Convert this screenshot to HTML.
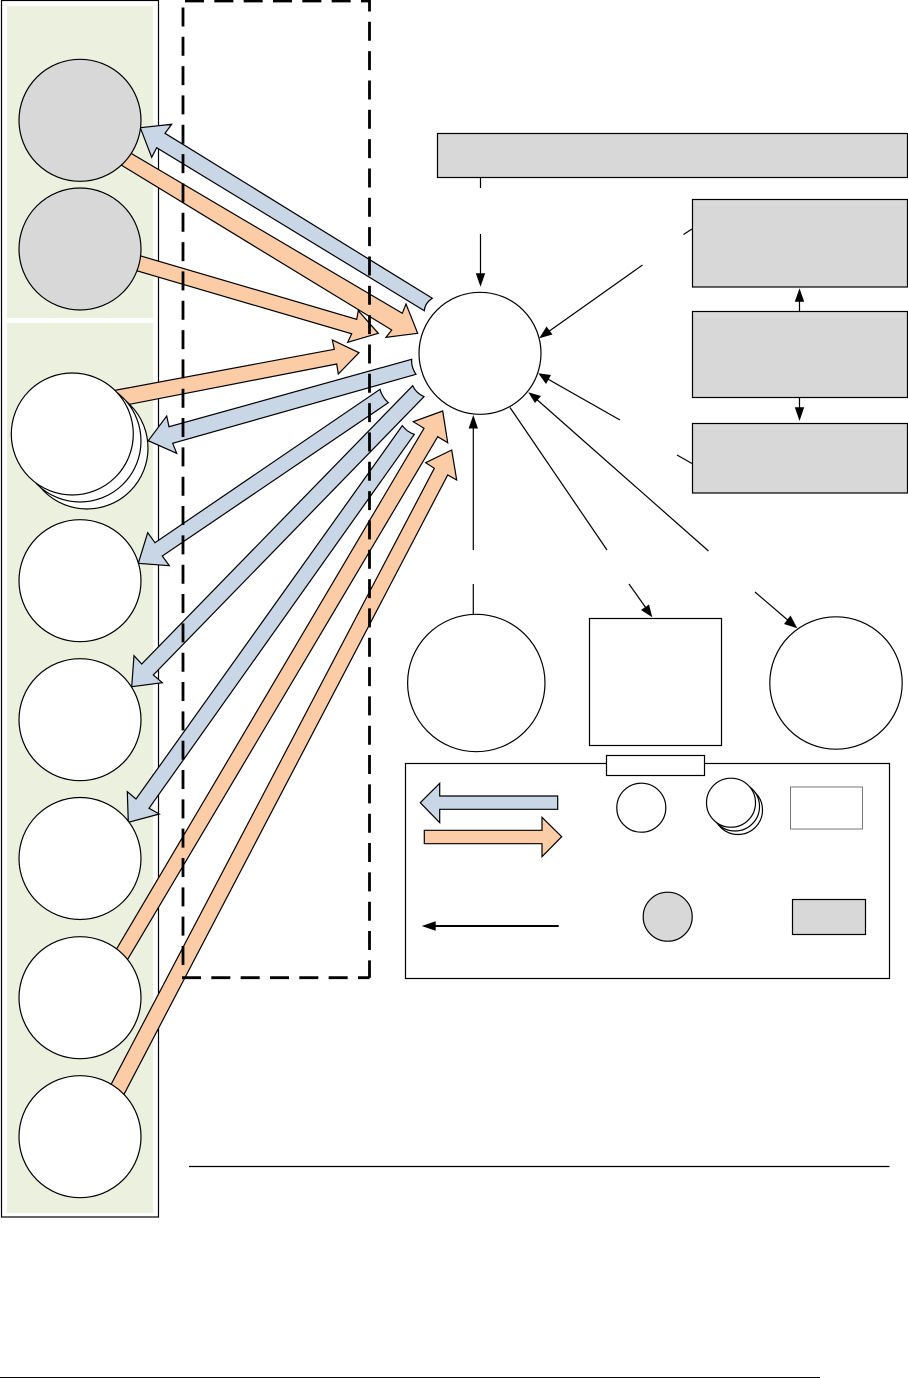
<!DOCTYPE html>
<html><head><meta charset="utf-8"><style>html,body{margin:0;padding:0;background:#fff}svg{display:block}</style></head>
<body>
<svg xmlns="http://www.w3.org/2000/svg" width="908" height="1378" viewBox="0 0 908 1378">
<rect x="1.5" y="0.5" width="157" height="1216.5" fill="#fff" stroke="#000" stroke-width="1.2"/>
<rect x="7" y="6" width="146" height="312" fill="#ebf1de"/>
<rect x="7" y="323" width="146" height="890" fill="#ebf1de"/>

<g stroke="#000" stroke-width="1.2" stroke-linejoin="miter">
<g fill="#c8d6e6">
<path d="M140.3 127.7L171.7 124.3L165 133.3L432.3 298.3Q425 303 424.3 310.7L156.7 147.7L151.7 157.3Z"/>
<path d="M148.3 440.7L166.7 416L169 426.7L411.7 359.3Q411 367 416 374.3L172.7 443.3L176.7 453.3Z"/>
<path d="M138.3 563.3L147.7 532.7L155 542.7L380 389.3Q382 397 388.3 402.7L162.3 556L169.3 565.7Z"/>
<path d="M131.7 686.7L134 655.7L141.7 664L412.7 385.7Q416 393 424 396.7L153.3 675L162.3 682.7Z"/>
<path d="M128.3 822.3L127.3 791.7L136 799L402.3 425.7Q407 432 414.3 434.3L149 808.3L159.3 814Z"/>
</g>
<g fill="#fbcca6">
<path d="M417.7 333.3L406 304L402.3 313.3L100 135L90 146L391.7 330L386 337.3Z"/>
<path d="M378.3 333.3L358.3 310.7L356.7 319.3L100 244L100 260L351.7 333.8L347.7 342.3Z"/>
<path d="M359 352.7L332.3 340L334.3 349.3L90 395L90 412L336.7 364L338.3 374Z"/>
<path d="M442.7 411L413.3 421.7L424 428.3L97.3 981.6L108.3 992L437.7 436.7L447.7 442.7Z"/>
<path d="M451.7 450L425.7 462.7L434.3 468.3L91.7 1121.4L104.3 1132L447.7 475L456.7 480Z"/>
</g>
</g>

<g fill="#d8d8d8" stroke="#000" stroke-width="1.2">
<circle cx="80" cy="120.3" r="61"/>
<circle cx="80" cy="249" r="61"/>
</g>
<g fill="#fff" stroke="#000" stroke-width="1.2">
<circle cx="87" cy="448" r="61"/>
<circle cx="80" cy="441" r="61"/>
<circle cx="72.3" cy="434" r="61"/>
<circle cx="80" cy="580.7" r="61"/>
<circle cx="80" cy="719.7" r="61"/>
<circle cx="80" cy="858.5" r="61"/>
<circle cx="80" cy="997.7" r="61"/>
<circle cx="80" cy="1136.7" r="61"/>
<circle cx="480" cy="353.3" r="61"/>
<circle cx="476.3" cy="683" r="68.7"/>
<rect x="589.5" y="618.5" width="132" height="127"/>
<circle cx="836" cy="683" r="66.2"/>
</g>

<g fill="#d8d8d8" stroke="#000" stroke-width="1.2">
<rect x="437.5" y="133.5" width="470" height="44"/>
<rect x="692.5" y="199.5" width="215" height="87.5"/>
<rect x="692.5" y="311.5" width="215" height="86"/>
<rect x="692.5" y="423.5" width="215" height="69.5"/>
</g>

<g stroke="#000" stroke-width="1.2" fill="none">
<path d="M480.5 177.5V188M480.5 234V276"/>
<path d="M692 229L683.5 234.5M642.5 265L548 332"/>
<path d="M620 420L546 378M677 455L692 463.5"/>
<path d="M708.5 551L534 397M755 592L790 622"/>
<path d="M510 407.5L607 550M629 584L646 608"/>
<path d="M473.3 425V550M473.3 584V614"/>
<path d="M799.5 300V311.5M799.5 397.5V409"/>
</g>
<g fill="#000">
<path d="M480.5 286.7L475.8 273.3H485.2Z"/>
<path d="M539.3 338.3L546.5 326.5L552.5 334.5Z"/>
<path d="M538.3 373.3L551 375L546 384Z"/>
<path d="M528.3 392.3L541 396L535 403Z"/>
<path d="M797.3 628.3L784 624L790.5 615.5Z"/>
<path d="M652.3 617.3L641 610L649 604.5Z"/>
<path d="M473.3 415L468.6 428.5H478Z"/>
<path d="M799.5 288.3L794.8 301.7H804.2Z"/>
<path d="M799.5 421L794.8 407.3H804.2Z"/>
</g>

<rect x="405.5" y="763.5" width="484" height="215" fill="#fff" stroke="#000" stroke-width="1.2"/>
<rect x="606.5" y="755.5" width="98" height="20" fill="#fff" stroke="#000" stroke-width="1.2"/>
<path d="M420.3 802.7L439.7 783.3V796H557.7V809.3H439.7V822.7Z" fill="#c8d6e6" stroke="#000" stroke-width="1.2"/>
<path d="M424.3 830.3H542V817.3L561.7 836.7L542 856.7V843.7H424.3Z" fill="#fbcca6" stroke="#000" stroke-width="1.2"/>
<g fill="#fff" stroke="#000" stroke-width="1.2">
<circle cx="641.3" cy="807.7" r="24.5"/>
<circle cx="738" cy="810" r="24.5"/>
<circle cx="735" cy="806.5" r="24.5"/>
<circle cx="731" cy="802.7" r="24.5"/>
</g>
<rect x="790.5" y="787" width="72" height="42" fill="#fff" stroke="#777" stroke-width="1"/>
<circle cx="667.7" cy="916.7" r="24.5" fill="#d8d8d8" stroke="#000" stroke-width="1.2"/>
<rect x="792.5" y="899.5" width="73" height="35" fill="#d8d8d8" stroke="#000" stroke-width="1.2"/>
<path d="M435 926H558.7" stroke="#000" stroke-width="2" fill="none"/>
<path d="M421.7 926L435.7 921.3V930.7Z" fill="#000"/>

<g fill="none" stroke="#000" stroke-width="2.8" stroke-dasharray="19 10.33">
<path d="M185 1H369.5V977.7"/>
<path d="M182 977.7H369.5"/>
<path d="M183 965V1"/>
</g>

<path d="M189 1166.5H889.5" stroke="#000" stroke-width="1.2" fill="none"/>
<path d="M0 1377.5H820" stroke="#000" stroke-width="1" fill="none"/>
</svg>
</body></html>
